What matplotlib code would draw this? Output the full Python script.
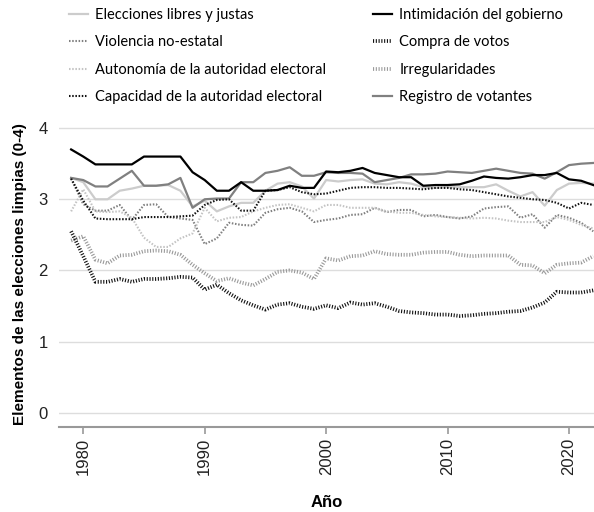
import matplotlib
matplotlib.use("Agg")
import matplotlib.pyplot as plt

plt.rcParams['lines.scale_dashes'] = False

years = list(range(1979, 2023))

elecciones = [3.30, 3.24, 3.00, 3.00, 3.12, 3.15, 3.19, 3.19, 3.20, 3.12,
              2.90, 2.98, 2.83, 2.90, 2.95, 2.95, 3.12, 3.22, 3.24, 3.18,
              3.01, 3.27, 3.25, 3.27, 3.28, 3.22, 3.21, 3.24, 3.22, 3.17,
              3.16, 3.17, 3.17, 3.17, 3.17, 3.21, 3.12, 3.04, 3.10, 2.91,
              3.13, 3.22, 3.23, 3.22]
intimidacion = [3.70, 3.60, 3.49, 3.49, 3.49, 3.49, 3.60, 3.60, 3.60, 3.60,
                3.38, 3.27, 3.12, 3.12, 3.24, 3.12, 3.12, 3.13, 3.19, 3.16,
                3.16, 3.39, 3.38, 3.40, 3.44, 3.37, 3.34, 3.31, 3.31, 3.19,
                3.20, 3.20, 3.21, 3.26, 3.32, 3.30, 3.29, 3.31, 3.34, 3.34,
                3.37, 3.28, 3.26, 3.20]
violencia = [3.29, 2.93, 2.84, 2.84, 2.92, 2.71, 2.92, 2.93, 2.75, 2.73,
             2.71, 2.37, 2.45, 2.67, 2.64, 2.63, 2.81, 2.86, 2.88, 2.83,
             2.68, 2.71, 2.73, 2.78, 2.79, 2.88, 2.82, 2.85, 2.85, 2.76,
             2.78, 2.75, 2.73, 2.76, 2.87, 2.89, 2.90, 2.74, 2.79, 2.60,
             2.78, 2.74, 2.67, 2.55]
compra = [2.55, 2.20, 1.84, 1.84, 1.88, 1.84, 1.88, 1.88, 1.89, 1.91,
          1.90, 1.73, 1.80, 1.68, 1.58, 1.51, 1.45, 1.52, 1.54, 1.49,
          1.46, 1.51, 1.47, 1.55, 1.52, 1.54, 1.49, 1.43, 1.41, 1.40,
          1.38, 1.38, 1.36, 1.37, 1.39, 1.40, 1.42, 1.43, 1.48, 1.55,
          1.70, 1.69, 1.69, 1.72]
autonomia = [2.83, 3.14, 2.83, 2.82, 2.83, 2.74, 2.46, 2.33, 2.33, 2.45,
             2.52, 2.88, 2.69, 2.74, 2.75, 2.83, 2.88, 2.92, 2.93, 2.88,
             2.83, 2.92, 2.92, 2.88, 2.88, 2.88, 2.83, 2.81, 2.81, 2.78,
             2.76, 2.75, 2.74, 2.73, 2.74, 2.73, 2.70, 2.68, 2.68, 2.68,
             2.75, 2.71, 2.64, 2.59]
irregularidades = [2.42, 2.48, 2.15, 2.10, 2.21, 2.22, 2.27, 2.28, 2.27, 2.22,
                   2.08, 1.96, 1.85, 1.89, 1.83, 1.79, 1.88, 1.98, 2.00, 1.97,
                   1.88, 2.17, 2.14, 2.20, 2.21, 2.27, 2.23, 2.22, 2.22, 2.25,
                   2.26, 2.26, 2.22, 2.20, 2.21, 2.21, 2.21, 2.08, 2.07, 1.96,
                   2.08, 2.10, 2.11, 2.20]
capacidad = [3.29, 2.98, 2.73, 2.72, 2.72, 2.72, 2.75, 2.75, 2.75, 2.76,
             2.77, 2.92, 2.99, 3.00, 2.84, 2.84, 3.12, 3.13, 3.17, 3.10,
             3.07, 3.08, 3.12, 3.16, 3.17, 3.17, 3.16, 3.16, 3.15, 3.14,
             3.16, 3.16, 3.14, 3.13, 3.10, 3.07, 3.04, 3.02, 3.00, 2.99,
             2.95, 2.87, 2.95, 2.92]
registro = [3.30, 3.27, 3.18, 3.18, 3.29, 3.40, 3.19, 3.19, 3.21, 3.30,
            2.88, 3.00, 3.01, 3.01, 3.24, 3.24, 3.37, 3.40, 3.45, 3.33,
            3.33, 3.38, 3.37, 3.37, 3.36, 3.24, 3.27, 3.30, 3.35, 3.35,
            3.36, 3.39, 3.38, 3.37, 3.40, 3.43, 3.40, 3.37, 3.36, 3.29,
            3.38, 3.48, 3.50, 3.51]

fig = plt.figure(figsize=(5.94, 5.12), dpi=100)
ax = fig.add_axes([0.0993, 0.166, 0.9007, 0.5977])

thin_dot = (0, (1.1, 1.2))
bar_dot = (0, (0.8, 1.2))

lines = {}
lines['Elecciones libres y justas'] = ax.plot(years, elecciones, color='#cccccc', lw=1.6)[0]
lines['Violencia no-estatal'] = ax.plot(years, violencia, color='#808080', lw=1.5, linestyle=thin_dot)[0]
lines['Autonomía de la autoridad electoral'] = ax.plot(years, autonomia, color='#c4c4c4', lw=1.5, linestyle=thin_dot)[0]
lines['Irregularidades'] = ax.plot(years, irregularidades, color='#9a9a9a', lw=2.7, linestyle=bar_dot)[0]
lines['Compra de votos'] = ax.plot(years, compra, color='#111111', lw=2.7, linestyle=bar_dot)[0]
lines['Registro de votantes'] = ax.plot(years, registro, color='#808080', lw=1.6)[0]
lines['Capacidad de la autoridad electoral'] = ax.plot(years, capacidad, color='#111111', lw=1.5, linestyle=thin_dot)[0]
lines['Intimidación del gobierno'] = ax.plot(years, intimidacion, color='#000000', lw=1.6)[0]

ax.set_xlim(1978.0, 2022.06)
ax.set_ylim(-0.2, 4.1)
ax.set_yticks([0, 1, 2, 3, 4])
ax.set_xticks([1980, 1990, 2000, 2010, 2020])
ax.grid(axis='y', color='#dddddd', lw=1.0)
ax.set_axisbelow(True)
for s in ['top', 'right', 'left']:
    ax.spines[s].set_visible(False)
ax.spines['bottom'].set_color('#999999')
ax.spines['bottom'].set_linewidth(1.5)
ax.tick_params(axis='y', length=0, pad=8, labelsize=12, labelcolor='#222222')
ax.tick_params(axis='x', length=5, width=1.2, color='#999999', labelsize=12,
               labelcolor='#222222', labelrotation=90, pad=3)
for lab in ax.get_xticklabels() + ax.get_yticklabels():
    lab.set_fontfamily('Liberation Sans')

ax.set_xlabel('Año', fontsize=12, fontweight='bold', family='Liberation Sans', labelpad=14)
ax.set_ylabel('Elementos de las elecciones limpias (0-4)', fontsize=11, fontweight='bold',
              family='Liberation Sans', labelpad=8)

# two legend columns, placed separately
col1 = ['Elecciones libres y justas', 'Violencia no-estatal',
        'Autonomía de la autoridad electoral', 'Capacidad de la autoridad electoral']
col2 = ['Intimidación del gobierno', 'Compra de votos', 'Irregularidades',
        'Registro de votantes']
leg_kw = dict(loc='upper left', frameon=False, prop={'family': 'Lato', 'size': 10.5},
              handlelength=1.3, handletextpad=0.5, labelspacing=0.92,
              borderpad=0, borderaxespad=0)
fig.legend([lines[k] for k in col1], col1, bbox_to_anchor=(69 / 594, 1 - 8 / 512), **leg_kw)
fig.legend([lines[k] for k in col2], col2, bbox_to_anchor=(373 / 594, 1 - 8 / 512), **leg_kw)

fig.savefig('out.png', dpi=100)
